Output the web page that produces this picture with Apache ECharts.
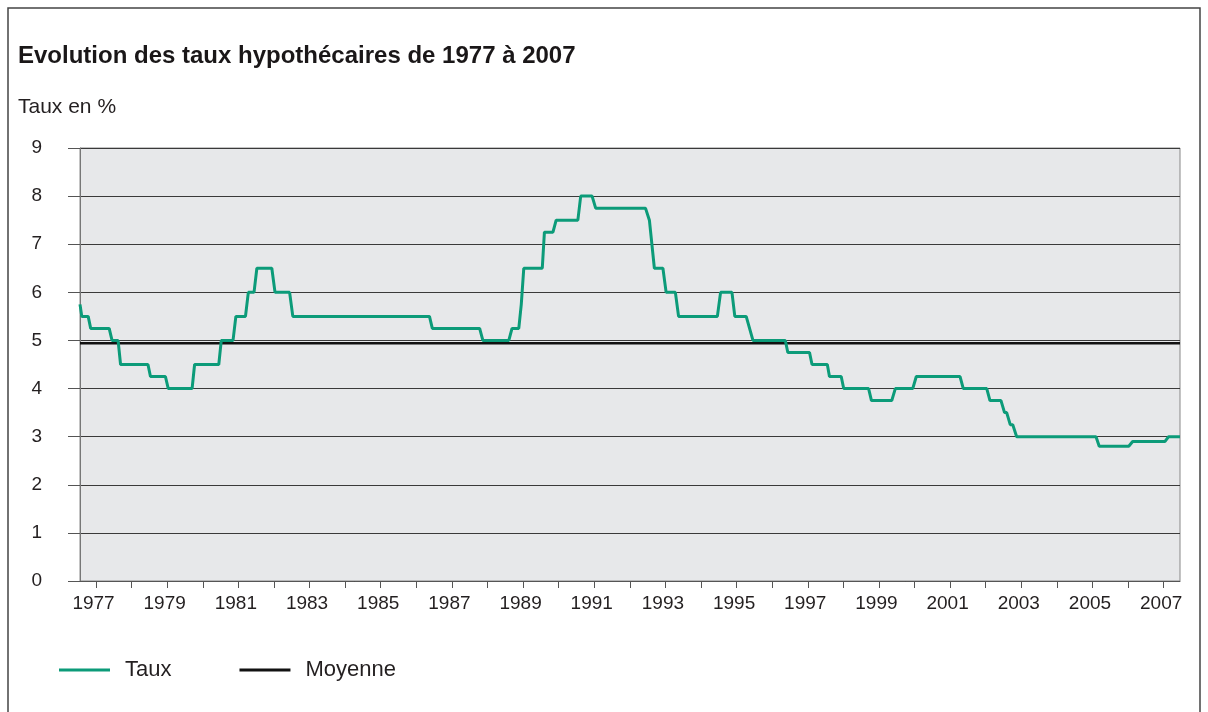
<!DOCTYPE html>
<html>
<head>
<meta charset="utf-8">
<script src="https://cdn.jsdelivr.net/npm/echarts@6/dist/echarts.min.js"></script>
<style>
html,body{margin:0;padding:0;background:#fff;}
#c{width:1208px;height:712px;}
</style>
</head>
<body>
<div id="c"></div>
<script>
// Decimal-year positions of the rate readings (start and end of each level)
var dates = [
  1976.55, 1976.60, 1976.78, 1976.85, 1977.37, 1977.45, 1977.62, 1977.69,
  1978.46, 1978.53, 1978.95, 1979.03, 1979.70, 1979.77, 1980.45, 1980.52,
  1980.85, 1980.93, 1981.20, 1981.28, 1981.44, 1981.52, 1981.94, 1982.03,
  1982.44, 1982.53, 1986.37, 1986.45, 1987.78, 1987.87, 1988.60, 1988.69,
  1988.88, 1988.95, 1989.02, 1989.54, 1989.60, 1989.84, 1989.93, 1990.54,
  1990.62, 1990.94, 1991.04, 1992.44, 1992.55, 1992.69, 1992.93, 1993.02,
  1993.28, 1993.37, 1994.46, 1994.55, 1994.87, 1994.95, 1995.27, 1995.46,
  1996.37, 1996.44, 1997.05, 1997.12, 1997.55, 1997.61, 1997.94, 1998.01,
  1998.71, 1998.79, 1999.36, 1999.46, 1999.95, 2000.05, 2001.28, 2001.37,
  2002.03, 2002.12, 2002.43, 2002.53, 2002.59, 2002.69, 2002.76, 2002.87,
  2005.10, 2005.19, 2006.02, 2006.13, 2007.04, 2007.14, 2007.46
];
var taux = [
  5.75, 5.5, 5.5, 5.25, 5.25, 5.0, 5.0, 4.5,
  4.5, 4.25, 4.25, 4.0, 4.0, 4.5, 4.5, 5.0,
  5.0, 5.5, 5.5, 6.0, 6.0, 6.5, 6.5, 6.0,
  6.0, 5.5, 5.5, 5.25, 5.25, 5.0, 5.0, 5.25,
  5.25, 5.75, 6.5, 6.5, 7.25, 7.25, 7.5, 7.5,
  8.0, 8.0, 7.75, 7.75, 7.5, 6.5, 6.5, 6.0,
  6.0, 5.5, 5.5, 6.0, 6.0, 5.5, 5.5, 5.0,
  5.0, 4.75, 4.75, 4.5, 4.5, 4.25, 4.25, 4.0,
  4.0, 3.75, 3.75, 4.0, 4.0, 4.25, 4.25, 4.0,
  4.0, 3.75, 3.75, 3.5, 3.5, 3.25, 3.25, 3.0,
  3.0, 2.8, 2.8, 2.9, 2.9, 3.0, 3.0
];
var moyenne = 4.94;
var xMin = 1976.55, xMax = 2007.46;
var tickYears = [1977,1978,1979,1980,1981,1982,1983,1984,1985,1986,1987,1988,1989,1990,1991,1992,1993,1994,1995,1996,1997,1998,1999,2000,2001,2002,2003,2004,2005,2006,2007];
var labelYears = [1977,1979,1981,1983,1985,1987,1989,1991,1993,1995,1997,1999,2001,2003,2005,2007];
var seriesNames = ['Taux', 'Moyenne'];
var titleText = 'Evolution des taux hypothécaires de 1977 à 2007';
var yAxisTitle = 'Taux en %';

var FONT = '"Liberation Sans", Arial, sans-serif';
var chart = echarts.init(document.getElementById('c'), null, {renderer: 'canvas'});
var tauxData = dates.map(function (d, i) { return [d, taux[i]]; });
var moyData = [[xMin, moyenne], [xMax, moyenne]];

chart.setOption({
  animation: false,
  backgroundColor: '#ffffff',
  textStyle: {fontFamily: FONT, color: '#231f20'},
  graphic: [
    {type: 'rect', shape: {x: 8, y: 8, width: 1192, height: 730},
     style: {fill: 'none', stroke: '#444', lineWidth: 1.5}, silent: true},
    {type: 'text', left: 18, top: 44,
     style: {text: titleText, font: 'bold 24px ' + FONT, fill: '#1a1718'}},
    {type: 'text', left: 18, top: 97,
     style: {text: yAxisTitle, font: '21px ' + FONT, fill: '#231f20'}}
  ],
  legend: {
    left: 59, top: 659, padding: 0,
    itemWidth: 51, itemHeight: 3, itemGap: 68,
    icon: 'rect',
    textStyle: {fontSize: 22, fontFamily: FONT, color: '#231f20', padding: [0, 0, 0, 10]},
    data: seriesNames
  },
  grid: {left: 80, right: 28, top: 148, bottom: 131, show: true,
         backgroundColor: '#e7e8ea', borderColor: '#888', borderWidth: 1},
  xAxis: {
    type: 'value', min: xMin, max: xMax,
    axisLine: {show: true, lineStyle: {color: '#555', width: 1}},
    axisTick: {show: true, length: 7, customValues: tickYears, lineStyle: {color: '#555'}},
    axisLabel: {customValues: labelYears, fontSize: 19, fontFamily: FONT, color: '#231f20', margin: 13,
                padding: [0, 5, 0, 0],
                formatter: function (v) { return String(Math.round(v)); }},
    splitLine: {show: false}
  },
  yAxis: {
    type: 'value', min: 0, max: 9, interval: 1,
    axisLine: {show: true, lineStyle: {color: '#777', width: 1}},
    axisTick: {show: true, length: 12, lineStyle: {color: '#555'}},
    axisLabel: {fontSize: 19, fontFamily: FONT, color: '#231f20', margin: 38, align: 'right'},
    splitLine: {show: true, lineStyle: {color: '#3a3a3a', width: 1}}
  },
  series: [
    {name: seriesNames[1], type: 'line', data: moyData, showSymbol: false, symbol: 'none',
     lineStyle: {color: '#111', width: 2.5}, itemStyle: {color: '#111'}, z: 2},
    {name: seriesNames[0], type: 'line', data: tauxData, showSymbol: false, symbol: 'none',
     lineStyle: {color: '#0c9b79', width: 3}, itemStyle: {color: '#0c9b79'}, z: 3}
  ]
});
</script>
</body>
</html>
